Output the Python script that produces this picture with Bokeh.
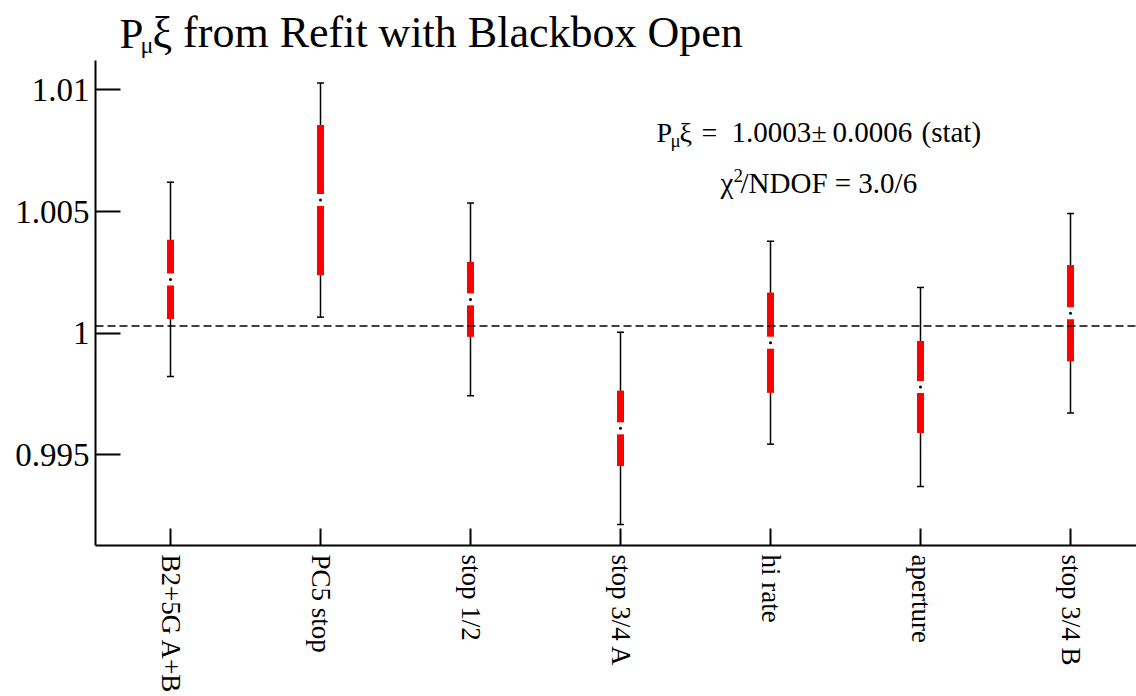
from bokeh.plotting import figure
from bokeh.models import Range1d, FixedTicker, Label, Span, ColumnDataSource
from bokeh.embed import file_html
from bokeh.resources import INLINE

# ---- data ----
categories = ["B2+5G A+B", "PC5 stop", "stop 1/2", "stop 3/4 A", "hi rate", "aperture", "stop 3/4 B"]
values = [1.00221, 1.00547, 1.00139, 0.99609, 0.99961, 0.99779, 1.00082]
outer_err = [0.00399, 0.00481, 0.00396, 0.00395, 0.00417, 0.00409, 0.00410]
inner_err = [0.00163, 0.00309, 0.00154, 0.00155, 0.00206, 0.00189, 0.00198]
fit_value = 1.0003
y_ticks = [0.995, 1.0, 1.005, 1.01]
y_tick_labels = ["0.995", "1", "1.005", "1.01"]

FONT = "Liberation Serif"
Y_MIN = 0.991276
Y_AXIS_TOP = 1.01121
Y_MAX = 1.013672

xs = list(range(len(categories)))
src = ColumnDataSource(dict(
    x=xs, v=values,
    lo=[v - e for v, e in zip(values, outer_err)],
    hi=[v + e for v, e in zip(values, outer_err)],
    ilo=[v - e for v, e in zip(values, inner_err)],
    ihi=[v + e for v, e in zip(values, inner_err)],
))

p = figure(width=1136, height=696, output_backend="svg", toolbar_location=None,
           x_range=Range1d(-0.5, -0.5 + 1041 / 150), y_range=Range1d(Y_MIN, Y_MAX),
           min_border_left=95, min_border_right=0, min_border_top=0, min_border_bottom=150)
p.title = None
p.outline_line_color = None
p.xgrid.visible = False
p.ygrid.visible = False
p.background_fill_color = "white"
p.border_fill_color = "white"

# axes
for ax in (p.xaxis[0], p.yaxis[0]):
    ax.axis_line_width = 2
    ax.axis_line_color = "black"
    ax.major_tick_line_width = 2
    ax.major_tick_line_color = "black"
    ax.major_tick_out = 0
    ax.minor_tick_line_color = None
    ax.major_label_text_font = FONT
    ax.major_label_text_color = "black"
    ax.major_label_text_font_style = "normal"

p.yaxis.bounds = (Y_MIN, Y_AXIS_TOP)
p.yaxis.ticker = FixedTicker(ticks=y_ticks)
p.yaxis.major_label_overrides = {t: s for t, s in zip(y_ticks, y_tick_labels)}
p.yaxis.major_tick_in = 25
p.yaxis.major_label_standoff = 6
p.yaxis.major_label_text_font_size = "33px"

p.xaxis.ticker = FixedTicker(ticks=xs)
p.xaxis.major_label_overrides = {i: c for i, c in enumerate(categories)}
p.xaxis.major_tick_in = 17
p.xaxis.major_label_orientation = "vertical"
p.xaxis.major_label_standoff = 9
p.xaxis.major_label_text_font_size = "27px"

# reference line
p.add_layout(Span(location=fit_value, dimension="width", line_color="black",
                  line_dash="8 4", line_width=1.5))

# error bars
p.segment(x0="x", y0="lo", x1="x", y1="hi", source=src, line_color="black", line_width=1.5)
p.scatter(x="x", y="lo", source=src, marker="dash", size=7, line_color="black", line_width=1.5)
p.scatter(x="x", y="hi", source=src, marker="dash", size=7, line_color="black", line_width=1.5)
p.segment(x0="x", y0="ilo", x1="x", y1="ihi", source=src, line_color="red", line_width=7)
p.scatter(x="x", y="v", source=src, marker="square", size=12, fill_color="white",
          line_color=None)
p.scatter(x="x", y="v", source=src, marker="circle", size=3, fill_color="black",
          line_color=None)

def lab(text, x, y, size):
    # y is the wanted baseline; Label places the descent-inclusive box bottom at y
    p.add_layout(Label(x=x, y=y + 0.22 * size, x_units="screen", y_units="screen", text=text,
                       text_font=FONT, text_font_size=f"{size}px", text_color="black",
                       text_baseline="alphabetic", text_align="left"))

# title (frame-relative screen coords: frame left = page x 95, frame bottom = page y 546)
lab("P", 24, 503, 43)
lab("\u03bc", 45, 495, 24)
lab("\u03be from Refit with Blackbox Open", 57, 503, 44)

# fit result annotation
lab("P", 561, 407, 28)
lab("\u03bc", 575, 401, 19)
lab("\u03be", 584, 407, 28)
lab("=", 606, 407, 28)
lab("1.0003", 636, 407, 29)
lab("\u00b1", 716, 407, 28)
lab("0.0006", 737, 407, 29)
lab("(stat)", 826, 407, 29)

lab("\u03c7", 625, 356, 29)
lab("2", 638, 366, 19)
lab("/NDOF = 3.0/6", 645, 356, 29)

open("out.html", "w").write(file_html(p, INLINE))
